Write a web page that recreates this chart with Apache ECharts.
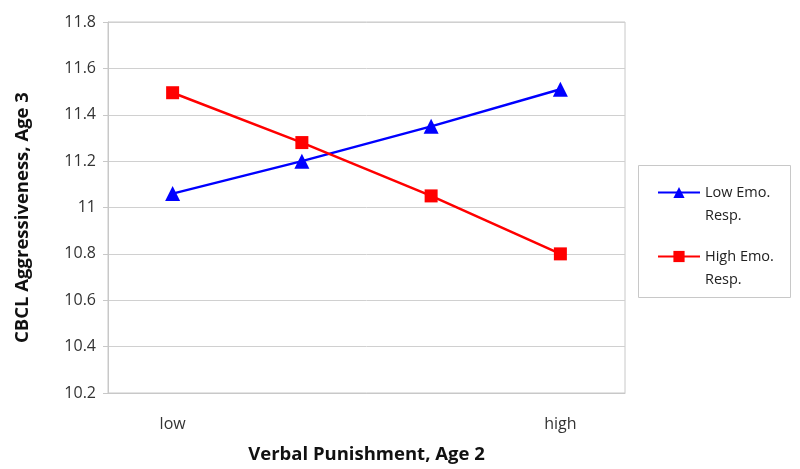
<!DOCTYPE html>
<html>
<head>
<meta charset="utf-8">
<script src="https://cdn.jsdelivr.net/npm/echarts@6/dist/echarts.min.js"></script>
<style>
  html, body { margin: 0; padding: 0; background: #fff; }
</style>
</head>
<body>
<div id="chart" style="width: 800px; height: 469px;"></div>
<script>
  // categories on the x axis (only the ends are labelled)
  let categories = ['low', '', '', 'high']
  let lowEmo = [11.06, 11.20, 11.35, 11.51]
  let highEmo = [11.495, 11.28, 11.05, 10.80]

  let font = "'Open Sans', 'DejaVu Sans', sans-serif"

  let options = {
    animation: false,
    // frame around the legend
    graphic: [{
      type: 'rect',
      shape: { x: 638.5, y: 165.5, width: 152, height: 132 },
      style: { fill: '#fff', stroke: '#c8c8c8', lineWidth: 1 },
      z: -1
    }],
    grid: {
      left: 108,
      right: 175,
      top: 22,
      bottom: 73,
      show: true,
      borderColor: '#c8c8c8',
      borderWidth: 1
    },
    legend: {
      orient: 'vertical',
      left: 657,
      top: 158,
      padding: 0,
      itemGap: -5,
      itemWidth: 42,
      itemHeight: 14,
      textStyle: {
        fontFamily: font,
        fontSize: 14.5,
        color: '#222',
        lineHeight: 23
      },
      // an empty line on top keeps the first text line level with the icon
      formatter: function (name) { return ' \n' + name },
      data: ['Low Emo.\nResp.', 'High Emo.\nResp.']
    },
    xAxis: {
      type: 'category',
      data: categories,
      name: 'Verbal Punishment, Age 2',
      nameLocation: 'middle',
      nameGap: 52,
      nameTextStyle: { fontFamily: font, fontSize: 18.5, fontWeight: 'bold', color: '#111' },
      axisLine: { lineStyle: { color: '#c8c8c8' } },
      axisTick: { show: false },
      axisLabel: { fontFamily: font, fontSize: 16, color: '#333', margin: 23 }
    },
    yAxis: {
      type: 'value',
      min: 10.2,
      max: 11.8,
      interval: 0.2,
      name: 'CBCL Aggressiveness, Age 3',
      nameLocation: 'middle',
      nameGap: 76,
      nameTextStyle: {
        fontFamily: font, fontSize: 18.5, fontWeight: 'bold', color: '#111',
        padding: [0, 20, 0, 0]
      },
      axisLine: { show: true, lineStyle: { color: '#c8c8c8' } },
      axisTick: { show: true, length: 5, lineStyle: { color: '#c8c8c8' } },
      splitLine: { lineStyle: { color: '#d0d0d0' } },
      axisLabel: {
        fontFamily: font,
        fontSize: 16,
        color: '#333',
        margin: 12,
        formatter: function (v) { return String(Math.round(v * 10) / 10) }
      }
    },
    series: [
      {
        name: 'Low Emo.\nResp.',
        type: 'line',
        data: lowEmo,
        color: '#0000ff',
        symbol: 'triangle',
        symbolSize: 15,
        lineStyle: { width: 2.5 }
      },
      {
        name: 'High Emo.\nResp.',
        type: 'line',
        data: highEmo,
        color: '#ff0000',
        symbol: 'rect',
        symbolSize: 13,
        lineStyle: { width: 2.5 }
      }
    ]
  }

  let mychart = echarts.init(document.getElementById('chart'))
  mychart.setOption(options)
</script>
</body>
</html>
